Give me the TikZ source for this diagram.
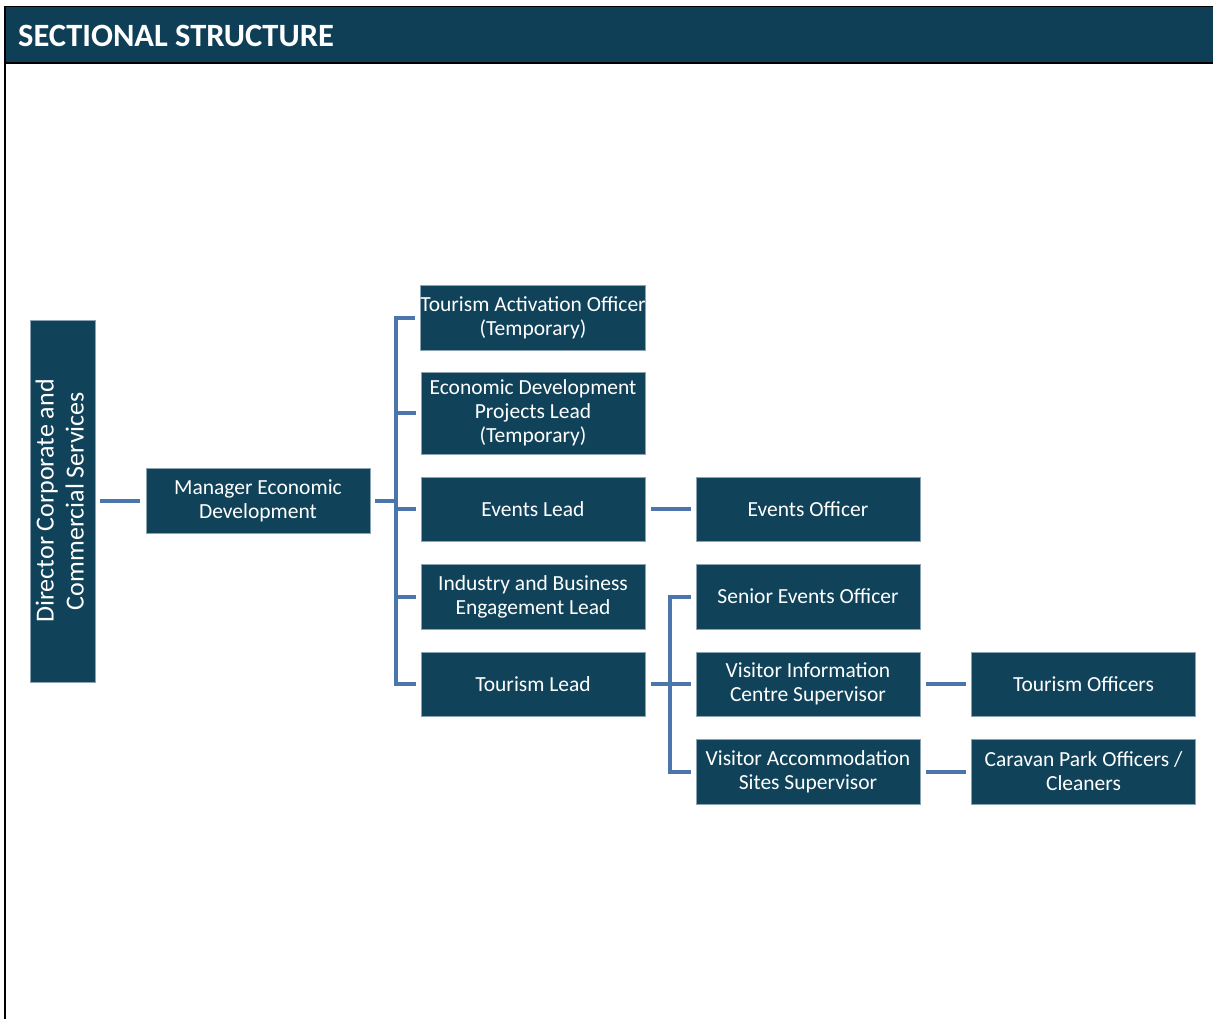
\documentclass[tikz,border=0pt]{standalone}
\usepackage{fontspec}
\setmainfont{Carlito}
\usetikzlibrary{positioning}
\definecolor{boxfill}{HTML}{10435A}
\definecolor{headfill}{HTML}{0F3F57}
\definecolor{connc}{HTML}{4A76AC}
\definecolor{boxedge}{HTML}{8AA4B4}
\tikzset{
  orgbox/.style={rectangle, fill=boxfill, draw=boxedge, line width=0.7pt, text=white,
    minimum width=224pt, minimum height=65pt, inner sep=0pt, align=center,
    font=\fontsize{21.5}{24}\selectfont},
  conn/.style={draw=connc, line width=4pt}
}
\begin{document}
\begin{tikzpicture}[x=1pt,y=-1pt]
\useasboundingbox (0,0) rectangle (1213,1019);
% frame and header
\fill[headfill] (5,6.5) rectangle (1220,63);
\draw[black, line width=1.6pt] (5,1030) -- (5,6.5) -- (1220,6.5);
\draw[black, line width=1.6pt] (5,63) -- (1220,63);
\node[anchor=west, text=white, inner sep=0pt, font=\fontsize{32.5}{36}\selectfont\bfseries] (title) at (18,36) {SECTIONAL STRUCTURE};
% nodes
\node[orgbox, minimum width=65pt, minimum height=362pt] (dir) at (62.5,501)
  {\rotatebox{90}{\fontsize{26}{30}\selectfont\begin{tabular}{@{}c@{}}Director Corporate and\\Commercial Services\end{tabular}}};
\node[orgbox] (mgr) at (258,500.5) {Manager Economic\\Development};
\node[orgbox] (tao) at (533,317.5) {Tourism Activation Officer\\(Temporary)};
\node[orgbox, minimum height=82pt] (edpl) at (533,413) {Economic Development\\Projects Lead\\(Temporary)};
\node[orgbox, minimum height=64pt] (el) at (533,509) {Events Lead};
\node[orgbox] (ibel) at (533,596.5) {Industry and Business\\Engagement Lead};
\node[orgbox, minimum height=64pt] (tl) at (533,684) {Tourism Lead};
\node[orgbox, minimum height=64pt] (eo) at (808,509) {Events Officer};
\node[orgbox] (seo) at (808,596.5) {Senior Events Officer};
\node[orgbox, minimum height=64pt] (vics) at (808,684) {Visitor Information\\Centre Supervisor};
\node[orgbox] (vass) at (808,771.5) {Visitor Accommodation\\Sites Supervisor};
\node[orgbox, minimum height=64pt] (to) at (1083.5,684) {Tourism Officers};
\node[orgbox] (cp) at (1083.5,771.5) {Caravan Park Officers /\\Cleaners};
% connectors
\draw[conn] ([xshift=5pt]dir.east |- mgr.west) -- ([xshift=-6pt]mgr.west);
\draw[conn] ([xshift=5pt]mgr.east) -- ([xshift=-25pt]mgr.east -| tao.west);
\draw[conn] ([xshift=-5pt]tao.west) -| ([xshift=-25pt]tl.west) -- ([xshift=-5pt]tl.west);
\draw[conn] ([xshift=-5pt]edpl.west) -- ([xshift=-25pt]edpl.west);
\draw[conn] ([xshift=-5pt]el.west) -- ([xshift=-25pt]el.west);
\draw[conn] ([xshift=-5pt]ibel.west) -- ([xshift=-25pt]ibel.west);
\draw[conn] ([xshift=6pt]el.east) -- ([xshift=-5pt]eo.west);
\draw[conn] ([xshift=6pt]tl.east) -- ([xshift=-5pt]vics.west);
\draw[conn] ([xshift=-5pt]seo.west) -| ([xshift=-26pt]vass.west) -- ([xshift=-5pt]vass.west);
\draw[conn] ([xshift=6pt]vics.east) -- ([xshift=-5pt]to.west);
\draw[conn] ([xshift=6pt]vass.east) -- ([xshift=-5pt]cp.west);
\end{tikzpicture}
\end{document}
